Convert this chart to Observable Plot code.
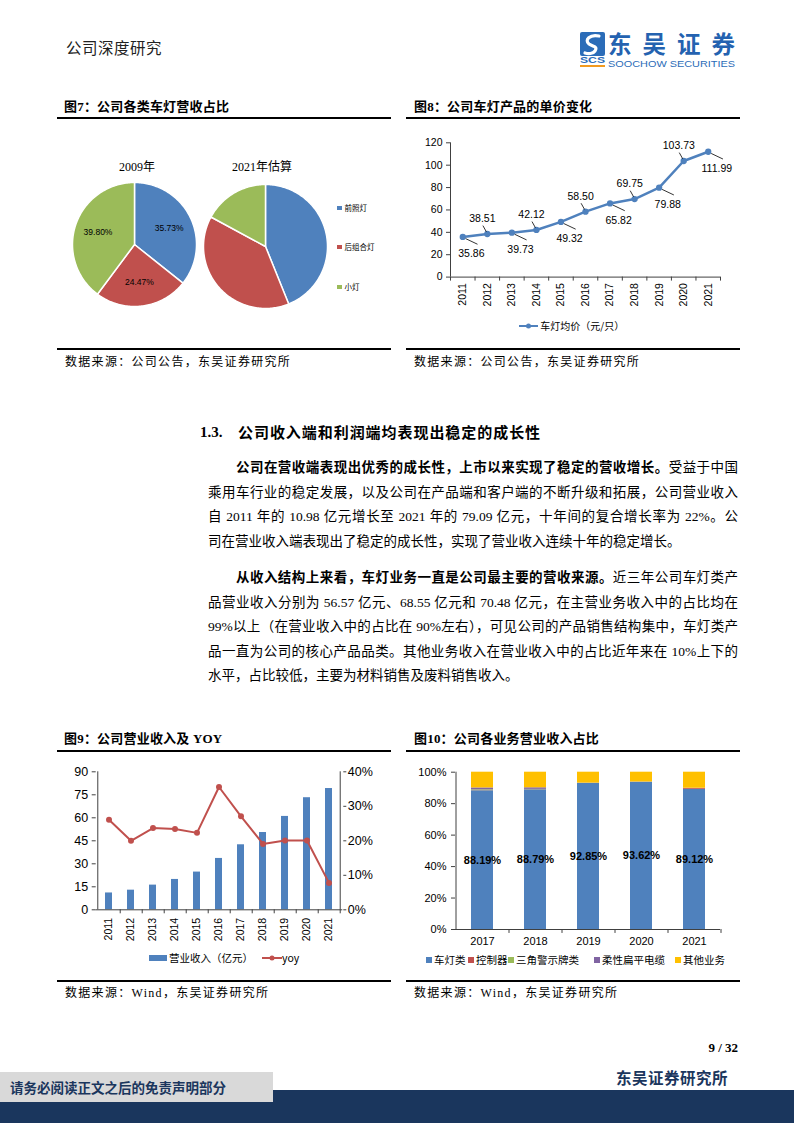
<!DOCTYPE html>
<html>
<head>
<meta charset="utf-8">
<script src="https://cdn.jsdelivr.net/npm/d3@7"></script>
<script src="https://cdn.jsdelivr.net/npm/@observablehq/plot@0.6"></script>
<style>
html,body{margin:0;padding:0;background:#fff;}
#page{position:relative;width:794px;height:1123px;overflow:hidden;font-family:"Noto Sans CJK SC",sans-serif;color:#000;}
.abs{position:absolute;white-space:nowrap;}
.ftitle{position:absolute;font-weight:700;font-size:13px;line-height:16px;letter-spacing:0.2px;white-space:nowrap;font-family:"Liberation Serif","Noto Sans CJK SC",serif;}
.hr{position:absolute;height:2px;background:#000;}
.src{position:absolute;font-size:12px;line-height:16px;letter-spacing:1.3px;font-family:"Liberation Serif","Noto Sans CJK SC",serif;white-space:nowrap;}
.bl{position:absolute;left:208px;width:530px;height:20px;font-size:13.5px;line-height:20px;font-family:"Liberation Serif","Noto Sans CJK SC",serif;text-align:justify;text-align-last:justify;}
.bl.first{left:236px;width:502px;}
.bl.last{text-align-last:left;}
.bl b{font-family:"Liberation Serif","Noto Sans CJK SC",serif;font-weight:700;}
.chart{position:absolute;}
.chart svg{overflow:visible;display:block;}
.leg{position:absolute;font-size:10.5px;line-height:13px;white-space:nowrap;color:#000;}
.sw{display:inline-block;width:6px;height:6px;vertical-align:middle;margin-right:2px;position:relative;top:-1px;}
</style>
</head>
<body>
<div id="page">
  <!-- header -->
  <div class="abs" style="left:66px;top:37px;font-size:15.5px;line-height:20px;color:#222;letter-spacing:0.5px;">公司深度研究</div>
  <svg class="abs" style="left:578px;top:24px;overflow:visible;" width="162" height="46" viewBox="0 0 162 46">
    <rect x="2" y="8" width="25" height="24" rx="2" fill="#2B6CB8"/>
    <path d="M21 12 C12 10,6 16,11 20 C15 23,20 22,17 27 C15 30,10 30,7 29" stroke="#fff" stroke-width="3.2" fill="none" stroke-linecap="round"/>
    <text x="2" y="39" font-family="Liberation Sans, Arial" font-weight="700" font-size="8.5" fill="#2B6CB8" textLength="25" lengthAdjust="spacingAndGlyphs">SCS</text>
    <rect x="2" y="41" width="25" height="2" fill="#F29A1F"/>
    <text x="30" y="29" font-family="Noto Sans CJK SC" font-weight="700" font-size="23.5" fill="#2462B0" textLength="127" lengthAdjust="spacing">东吴证券</text>
    <text x="30" y="42.5" font-family="Liberation Sans, Arial" font-size="9" fill="#2B6CB8" textLength="127" lengthAdjust="spacingAndGlyphs">SOOCHOW SECURITIES</text>
  </svg>

  <!-- figure 7 / 8 titles -->
  <div class="ftitle" style="left:64px;top:99px;">图7：公司各类车灯营收占比</div>
  <div class="ftitle" style="left:414px;top:99px;">图8：公司车灯产品的单价变化</div>
  <div class="hr" style="left:57px;top:117px;width:334px;"></div>
  <div class="hr" style="left:406px;top:117px;width:334px;"></div>

  <div class="abs" style="left:100px;top:159px;width:74px;text-align:center;font-size:12px;line-height:16px;font-family:'Liberation Serif','Noto Sans CJK SC',serif;">2009年</div>
  <div class="abs" style="left:220px;top:159px;width:84px;text-align:center;font-size:12px;line-height:16px;font-family:'Liberation Serif','Noto Sans CJK SC',serif;">2021年估算</div>
  <div id="pie1" class="chart" style="left:63.7px;top:174.3px;"></div>
  <div id="pie2" class="chart" style="left:194.5px;top:175.5px;"></div>
  <div id="pieLegend"></div>

  <div id="price" class="chart" style="left:400px;top:130px;"></div>
  <div class="leg" style="left:519px;top:319px;font-size:10px;"><svg width="19" height="8" style="vertical-align:middle;position:relative;top:-1px;"><line x1="0" y1="4" x2="19" y2="4" stroke="#4F81BD" stroke-width="2"/><circle cx="9.5" cy="4" r="2.5" fill="#4F81BD"/></svg> 车灯均价（元/只）</div>

  <div class="hr" style="left:57px;top:348px;width:334px;"></div>
  <div class="hr" style="left:406px;top:348px;width:334px;"></div>
  <div class="src" style="left:65px;top:354px;">数据来源：公司公告，东吴证券研究所</div>
  <div class="src" style="left:414px;top:354px;">数据来源：公司公告，东吴证券研究所</div>

  <!-- section -->
  <div class="abs" style="left:200px;top:422px;font-size:15px;line-height:20px;font-weight:700;font-family:'Liberation Serif',serif;">1.3.</div>
  <div class="abs" style="left:238px;top:422px;font-size:15px;line-height:20px;font-weight:700;letter-spacing:0.95px;">公司收入端和利润端均表现出稳定的成长性</div>

  <div class="bl first" style="top:458px;"><b>公司在营收端表现出优秀的成长性，上市以来实现了稳定的营收增长。</b>受益于中国</div>
  <div class="bl" style="top:482.5px;">乘用车行业的稳定发展，以及公司在产品端和客户端的不断升级和拓展，公司营业收入</div>
  <div class="bl" style="top:507px;">自 2011 年的 10.98 亿元增长至 2021 年的 79.09 亿元，十年间的复合增长率为 22%。公</div>
  <div class="bl last" style="top:531.5px;">司在营业收入端表现出了稳定的成长性，实现了营业收入连续十年的稳定增长。</div>

  <div class="bl first" style="top:568px;"><b>从收入结构上来看，车灯业务一直是公司最主要的营收来源。</b>近三年公司车灯类产</div>
  <div class="bl" style="top:592.5px;">品营业收入分别为 56.57 亿元、68.55 亿元和 70.48 亿元，在主营业务收入中的占比均在</div>
  <div class="bl" style="top:617px;">99%以上（在营业收入中的占比在 90%左右），可见公司的产品销售结构集中，车灯类产</div>
  <div class="bl" style="top:641.5px;">品一直为公司的核心产品品类。其他业务收入在营业收入中的占比近年来在 10%上下的</div>
  <div class="bl last" style="top:666px;">水平，占比较低，主要为材料销售及废料销售收入。</div>

  <!-- figure 9 / 10 -->
  <div class="ftitle" style="left:64px;top:731px;">图9：公司营业收入及 YOY</div>
  <div class="ftitle" style="left:414px;top:731px;">图10：公司各业务营业收入占比</div>
  <div class="hr" style="left:57px;top:750px;width:334px;"></div>
  <div class="hr" style="left:406px;top:750px;width:334px;"></div>

  <div id="revenue" class="chart" style="left:57px;top:755px;"></div>
  <div class="leg" style="left:149px;top:951px;"><span class="sw" style="width:18px;height:6px;background:#4F81BD;"></span>营业收入（亿元）</div>
  <div class="leg" style="left:262px;top:951px;"><svg width="20" height="8" style="vertical-align:middle;position:relative;top:-1px;"><line x1="0" y1="4" x2="20" y2="4" stroke="#C0504D" stroke-width="2"/><circle cx="10" cy="4" r="2.5" fill="#C0504D"/></svg>yoy</div>

  <div id="share" class="chart" style="left:405px;top:755px;"></div>
  <div id="shareLegend"></div>

  <div class="hr" style="left:57px;top:979.5px;width:334px;"></div>
  <div class="hr" style="left:406px;top:979.5px;width:334px;"></div>
  <div class="src" style="left:65px;top:985px;">数据来源：Wind，东吴证券研究所</div>
  <div class="src" style="left:414px;top:985px;">数据来源：Wind，东吴证券研究所</div>

  <!-- footer -->
  <div class="abs" style="left:680px;top:1040px;width:58px;text-align:right;font-size:13px;line-height:16px;font-weight:700;font-family:'Liberation Serif',serif;">9 / 32</div>
  <div class="abs" style="left:560px;top:1067px;width:168px;text-align:right;font-size:15.5px;line-height:20px;font-weight:700;color:#1B365D;letter-spacing:0.5px;">东吴证券研究所</div>
  <div class="abs" style="left:0;top:1090px;width:794px;height:33px;background:#1A365D;"></div>
  <div class="abs" style="left:0;top:1072px;width:273px;height:30px;background:#D9D9D9;"></div>
  <div class="abs" style="left:10px;top:1078px;font-size:13.5px;line-height:18px;font-weight:700;color:#1B365D;">请务必阅读正文之后的免责声明部分</div>
</div>

<script>
// ---------------- data ----------------
const pieCats = ["前照灯", "后组合灯", "小灯"];
const pieColors = ["#4F81BD", "#C0504D", "#9BBB59"];
const share2009 = [35.73, 24.47, 39.80];
const share2021 = [43.9, 39.0, 17.1];

const priceYears = [2011, 2012, 2013, 2014, 2015, 2016, 2017, 2018, 2019, 2020, 2021];
const priceValues = [35.86, 38.51, 39.73, 42.12, 49.32, 58.50, 65.82, 69.75, 79.88, 103.73, 111.99];
const priceTicks = [0, 20, 40, 60, 80, 100, 120];

const revYears = [2011, 2012, 2013, 2014, 2015, 2016, 2017, 2018, 2019, 2020, 2021];
const revenue = [10.98, 12.8, 16.1, 19.8, 24.6, 33.5, 42.4, 50.4, 60.9, 73.1, 79.09];
const yoyPct = [26.1, 20.0, 23.7, 23.4, 22.3, 35.6, 27.1, 19.1, 20.1, 20.1, 7.8];
const revTicks = [0, 15, 30, 45, 60, 75, 90];
const yoyTicks = [0, 10, 20, 30, 40];

const shareYears = [2017, 2018, 2019, 2020, 2021];
const shareCats = ["车灯类", "控制器", "三角警示牌类", "柔性扁平电缆", "其他业务"];
const shareColors = ["#4F81BD", "#C0504D", "#9BBB59", "#8064A2", "#FFC000"];
const lampShare = [88.19, 88.79, 92.85, 93.62, 89.12];
const controllerShare = [0.1, 0.1, 0.05, 0.05, 0.6];
const triangleShare = [0.5, 0.2, 0.05, 0.05, 0.05];
const cableShare = [1.2, 1.0, 0.1, 0.05, 0.05];
const otherShare = [10.01, 9.91, 6.95, 6.23, 10.18];
const shareTicks = [0, 20, 40, 60, 80, 100];

// ---------------- common ----------------
const axisColor = "#404040";
const blue = "#4F81BD";
const red = "#C0504D";
const latin = "'Liberation Sans', Arial, sans-serif";

// ---------------- pies ----------------
function pieChart(values, showLabels) {
  const arcs = d3.pie().sort(null)(values);
  const pts = [];
  arcs.forEach((a, i) => {
    const n = Math.max(2, Math.ceil((a.endAngle - a.startAngle) / 0.02));
    pts.push({cat: pieCats[i], x: 0, y: 0});
    for (let k = 0; k <= n; k++) {
      const ang = a.startAngle + (a.endAngle - a.startAngle) * k / n;
      pts.push({cat: pieCats[i], x: Math.sin(ang), y: Math.cos(ang)});
    }
  });
  const labels = arcs.map((a, i) => {
    const mid = (a.startAngle + a.endAngle) / 2;
    return {x: Math.sin(mid) * 0.62, y: Math.cos(mid) * 0.62, text: values[i].toFixed(2) + "%"};
  });
  return Plot.plot({
    width: 140, height: 140, margin: 0,
    x: {domain: [-1.129, 1.129], axis: null},
    y: {domain: [-1.129, 1.129], axis: null},
    color: {domain: pieCats, range: pieColors},
    style: {background: "transparent", fontFamily: latin},
    marks: [
      Plot.line(pts, {x: "x", y: "y", z: "cat", fill: "cat", stroke: "white", strokeWidth: 1.5, curve: "linear-closed", strokeLinejoin: "round"}),
      showLabels ? Plot.text(labels, {x: "x", y: "y", text: "text", fontSize: 8.5, fill: "#000"}) : null
    ]
  });
}
document.getElementById("pie1").appendChild(pieChart(share2009, true));
document.getElementById("pie2").appendChild(pieChart(share2021, false));

const pieLegendTops = [202, 241, 281];
document.getElementById("pieLegend").innerHTML = pieCats.map((c, i) =>
  `<div class="leg" style="left:337px;top:${pieLegendTops[i]}px;font-size:7.5px;line-height:12px;"><span class="sw" style="width:4.5px;height:4.5px;background:${pieColors[i]};margin-right:3px;"></span>${c}</div>`
).join("");

// ---------------- price line ----------------
const priceData = priceYears.map((year, i) => ({year, value: priceValues[i], above: i % 2 === 1}));
const priceBounds = priceYears.map(y => y - 0.5).concat([priceYears[priceYears.length - 1] + 0.5]);
const priceChart = Plot.plot({
  width: 340, height: 210,
  marginLeft: 50, marginRight: 20, marginTop: 12.3, marginBottom: 63.4,
  x: {type: "linear", domain: [priceBounds[0], priceBounds[priceBounds.length - 1]]},
  y: {domain: [0, 120]},
  style: {background: "transparent", fontFamily: latin, fontSize: "10.5px", color: "#000"},
  marks: [
    Plot.ruleX([priceBounds[0]], {stroke: axisColor}),
    Plot.ruleY([0], {stroke: axisColor}),
    Plot.axisY({ticks: priceTicks, tickSize: 4, tickPadding: 4, label: null, stroke: axisColor, fontSize: 10.5}),
    Plot.axisX({ticks: priceBounds, tickSize: 4, tickFormat: () => "", label: null, stroke: axisColor}),
    Plot.axisX({ticks: priceYears, tickSize: 0, tickPadding: 6, tickRotate: -90, tickFormat: d => String(d), label: null, fontSize: 10.5}),
    Plot.line(priceData, {x: "year", y: "value", stroke: blue, strokeWidth: 2.5}),
    Plot.dot(priceData, {x: "year", y: "value", fill: blue, stroke: blue, r: 2.4}),
    Plot.link(priceData, {
      x1: d => d.year + (d.above ? -0.04 : 0.12), y1: d => d.value + (d.above ? 2 : -1.5),
      x2: d => d.year + (d.above ? -0.18 : 0.6), y2: d => d.value + (d.above ? 7.5 : -6.5),
      stroke: "#000", strokeWidth: 0.8
    }),
    Plot.text(priceData, {
      x: d => d.year + (d.above ? -0.2 : 0.35), y: d => d.value + (d.above ? 13.5 : -15),
      text: d => d.value.toFixed(2), fontSize: 10.5, fill: "#000"
    })
  ]
});
document.getElementById("price").appendChild(priceChart);

// ---------------- revenue + yoy ----------------
const revData = revYears.map((year, i) => ({year, revenue: revenue[i], yoy: yoyPct[i]}));
const W9 = 334, mL9 = 38.7, mR9 = 48.7;
const step9 = (W9 - mL9 - mR9) / revYears.length;
const yoyToRev = revTicks[revTicks.length - 1] / yoyTicks[yoyTicks.length - 1];
const revChart = Plot.plot({
  width: W9, height: 215,
  marginLeft: mL9, marginRight: mR9, marginTop: 16.3, marginBottom: 60.7,
  x: {type: "band", domain: revYears, paddingInner: 0.67, paddingOuter: 0.335},
  y: {domain: [0, 90]},
  style: {background: "transparent", fontFamily: latin, fontSize: "12px", color: "#000"},
  marks: [
    Plot.barY(revData, {x: "year", y: "revenue", fill: blue}),
    Plot.ruleY([0], {stroke: axisColor}),
    Plot.ruleX([revYears[0]], {dx: -step9 / 2, stroke: axisColor}),
    Plot.ruleX([revYears[revYears.length - 1]], {dx: step9 / 2, stroke: axisColor}),
    Plot.ruleX(revYears, {dx: step9 / 2, y1: 0, y2: -2.6, stroke: axisColor}),
    Plot.axisY({ticks: revTicks, tickSize: 4, tickPadding: 4, label: null, stroke: axisColor, fontSize: 12.5}),
    Plot.axisY({anchor: "right", ticks: yoyTicks.map(t => t * yoyToRev), tickFormat: d => Math.round(d / yoyToRev) + "%", tickSize: 3, tickPadding: 2, label: null, stroke: axisColor, fontSize: 12.5}),
    Plot.axisX({ticks: revYears, tickSize: 0, tickPadding: 8, tickRotate: -90, tickFormat: d => String(d), label: null, fontSize: 10.5}),
    Plot.line(revData, {x: "year", y: d => d.yoy * yoyToRev, stroke: red, strokeWidth: 2}),
    Plot.dot(revData, {x: "year", y: d => d.yoy * yoyToRev, fill: red, r: 3})
  ]
});
document.getElementById("revenue").appendChild(revChart);

// ---------------- share stacked ----------------
const shareSeries = [lampShare, controllerShare, triangleShare, cableShare, otherShare];
const shareData = shareYears.flatMap((year, i) => shareCats.map((cat, j) => ({year, cat, value: shareSeries[j][i]})));
const lampData = shareYears.map((year, i) => ({year, value: lampShare[i]}));
const W10 = 335, mL10 = 50, mR10 = 20;
const step10 = (W10 - mL10 - mR10) / shareYears.length;
const shareChart = Plot.plot({
  width: W10, height: 215,
  marginLeft: mL10, marginRight: mR10, marginTop: 16.7, marginBottom: 41,
  x: {type: "band", domain: shareYears, paddingInner: 0.59, paddingOuter: 0.295},
  y: {domain: [0, 100]},
  color: {domain: shareCats, range: shareColors},
  style: {background: "transparent", fontFamily: latin, fontSize: "11px", color: "#000"},
  marks: [
    Plot.barY(shareData, {x: "year", y: "value", fill: "cat"}),
    Plot.ruleY([0], {stroke: axisColor}),
    Plot.ruleX([shareYears[0]], {dx: -step10 / 2, stroke: axisColor}),
    Plot.ruleX(shareYears, {dx: step10 / 2, y1: 0, y2: -2.5, stroke: axisColor}),
    Plot.axisY({ticks: shareTicks, tickFormat: d => d + "%", tickSize: 4, tickPadding: 5, label: null, stroke: axisColor, fontSize: 11}),
    Plot.axisX({ticks: shareYears, tickSize: 0, tickPadding: 8, tickFormat: d => String(d), label: null, fontSize: 11}),
    Plot.text(lampData, {x: "year", y: d => d.value / 2, text: d => d.value.toFixed(2) + "%", fontSize: 11, fontWeight: "bold", fill: "#000"})
  ]
});
document.getElementById("share").appendChild(shareChart);

const shareLegendLefts = [429, 471, 511, 597, 678];
document.getElementById("shareLegend").innerHTML = shareCats.map((c, i) =>
  `<div class="leg" style="left:${shareLegendLefts[i] - 3}px;top:953px;"><span class="sw" style="background:${shareColors[i]};"></span>${c}</div>`
).join("");
</script>
</body>
</html>
